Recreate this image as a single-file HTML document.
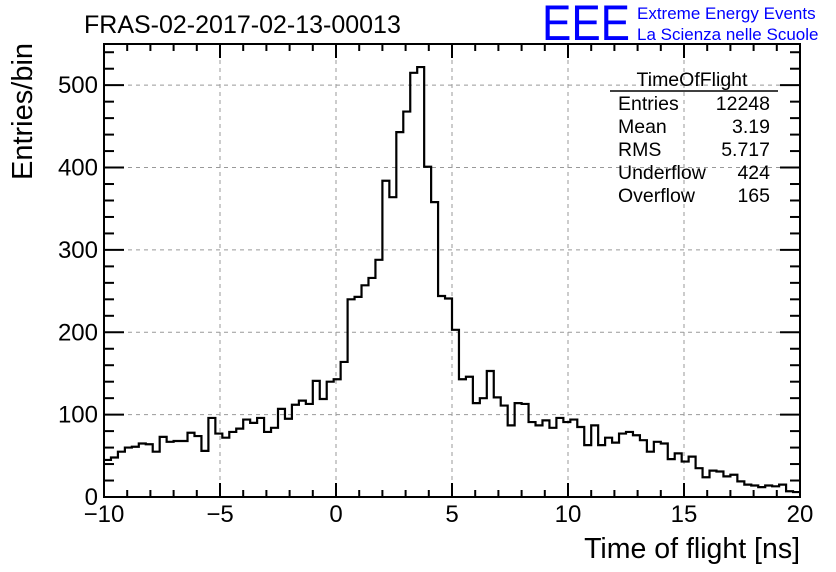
<!DOCTYPE html>
<html><head><meta charset="utf-8"><style>
body{margin:0;background:#fff;}
svg{display:block;font-family:"Liberation Sans",sans-serif;}
</style></head><body>
<svg id="chart" width="836" height="572" viewBox="0 0 836 572">
<rect width="836" height="572" fill="#fff"/>
<g id="grid"></g>
<g id="hist"></g>
<g id="axes"></g>
<text x="84" y="33" font-size="25">FRAS-02-2017-02-13-00013</text>
<text x="542" y="40" font-size="50" fill="#0000ff" textLength="88" lengthAdjust="spacingAndGlyphs">EEE</text>
<text x="637" y="19" font-size="17" fill="#0000ff">Extreme Energy Events</text>
<text x="637" y="40" font-size="17" fill="#0000ff">La Scienza nelle Scuole</text>
<text transform="translate(32,180) rotate(-90)" font-size="29">Entries/bin</text>
<text x="800" y="558" font-size="28.5" text-anchor="end">Time of flight [ns]</text>
<g font-size="19.5">
<text x="692" y="86" text-anchor="middle">TimeOfFlight</text>
<line x1="610" y1="91" x2="778" y2="91" stroke="#000" stroke-width="1.5"/>
<text x="618" y="110">Entries</text><text x="770" y="110" text-anchor="end">12248</text>
<text x="618" y="133">Mean</text><text x="770" y="133" text-anchor="end">3.19</text>
<text x="618" y="156">RMS</text><text x="770" y="156" text-anchor="end">5.717</text>
<text x="618" y="179">Underflow</text><text x="770" y="179" text-anchor="end">424</text>
<text x="618" y="202">Overflow</text><text x="770" y="202" text-anchor="end">165</text>
</g>
</svg>
<script>
const xMin = -10, xMax = 20;
const binCounts = [45,48,55,60,61,65,64,55,73,67,68,68,78,74,56,96,77,72,79,83,
94,90,96,79,84,107,95,112,117,113,141,119,140,143,164,240,243,257,266,288,
384,364,443,468,515,522,401,358,244,241,203,143,146,114,120,153,121,111,87,114,
113,91,87,93,84,96,91,94,85,63,87,63,72,66,77,79,75,69,55,67,
65,46,53,43,49,35,24,32,31,25,27,19,15,14,12,14,13,15,7,6];
const yTicks = [0,100,200,300,400,500];
const xTicks = [-10,-5,0,5,10,15,20];
const L=104,R=800,T=44,B=497,yMax=550;
const NS="http://www.w3.org/2000/svg";
function sx(v){return L+(v-xMin)/(xMax-xMin)*(R-L);}
function sy(v){return B-v/yMax*(B-T);}
function mk(tag,attrs,parent){const e=document.createElementNS(NS,tag);for(const k in attrs)e.setAttribute(k,attrs[k]);parent.appendChild(e);return e;}
const grid=document.getElementById('grid'),hist=document.getElementById('hist'),axes=document.getElementById('axes');
xTicks.forEach(v=>{if(v>xMin&&v<xMax){const l=mk('line',{x1:sx(v),x2:sx(v),y1:T,y2:B,stroke:'#999','stroke-dasharray':'4,4','stroke-width':1},grid);

}});
yTicks.forEach(v=>{if(v>0){const l=mk('line',{x1:L,x2:R,y1:sy(v),y2:sy(v),stroke:'#999','stroke-dasharray':'4,4','stroke-width':1},grid);

}});
const bw=(xMax-xMin)/binCounts.length;
let d='M'+sx(xMin)+','+sy(binCounts[0]);
binCounts.forEach((c,i)=>{d+=' L'+sx(xMin+i*bw)+','+sy(c)+' L'+sx(xMin+(i+1)*bw)+','+sy(c);});
const p=mk('path',{d:d,fill:'none',stroke:'#000','stroke-width':2.2},hist);


const fr=mk('rect',{x:L,y:T,width:R-L,height:B-T,fill:'none',stroke:'#000','stroke-width':2},axes);


for(let v=xMin;v<=xMax;v++){const maj=(v%5===0);const len=maj?14:7;
mk('line',{x1:sx(v),x2:sx(v),y1:B,y2:B-len,stroke:'#000','stroke-width':2},axes);
mk('line',{x1:sx(v),x2:sx(v),y1:T,y2:T+len,stroke:'#000','stroke-width':2},axes);}
for(let v=0;v<=yMax;v+=20){const maj=(v%100===0);const len=maj?20:10;
mk('line',{x1:L,x2:L+len,y1:sy(v),y2:sy(v),stroke:'#000','stroke-width':2},axes);
mk('line',{x1:R,x2:R-len,y1:sy(v),y2:sy(v),stroke:'#000','stroke-width':2},axes);}
xTicks.forEach(v=>{const t=mk('text',{x:sx(v),y:522,'font-size':24,'text-anchor':'middle'},axes);t.textContent=(v<0?'\u2212'+(-v):String(v));

});
yTicks.forEach(v=>{const t=mk('text',{x:98,y:sy(v)+8,'font-size':24,'text-anchor':'end'},axes);t.textContent=String(v);

});
</script>
</body></html>
